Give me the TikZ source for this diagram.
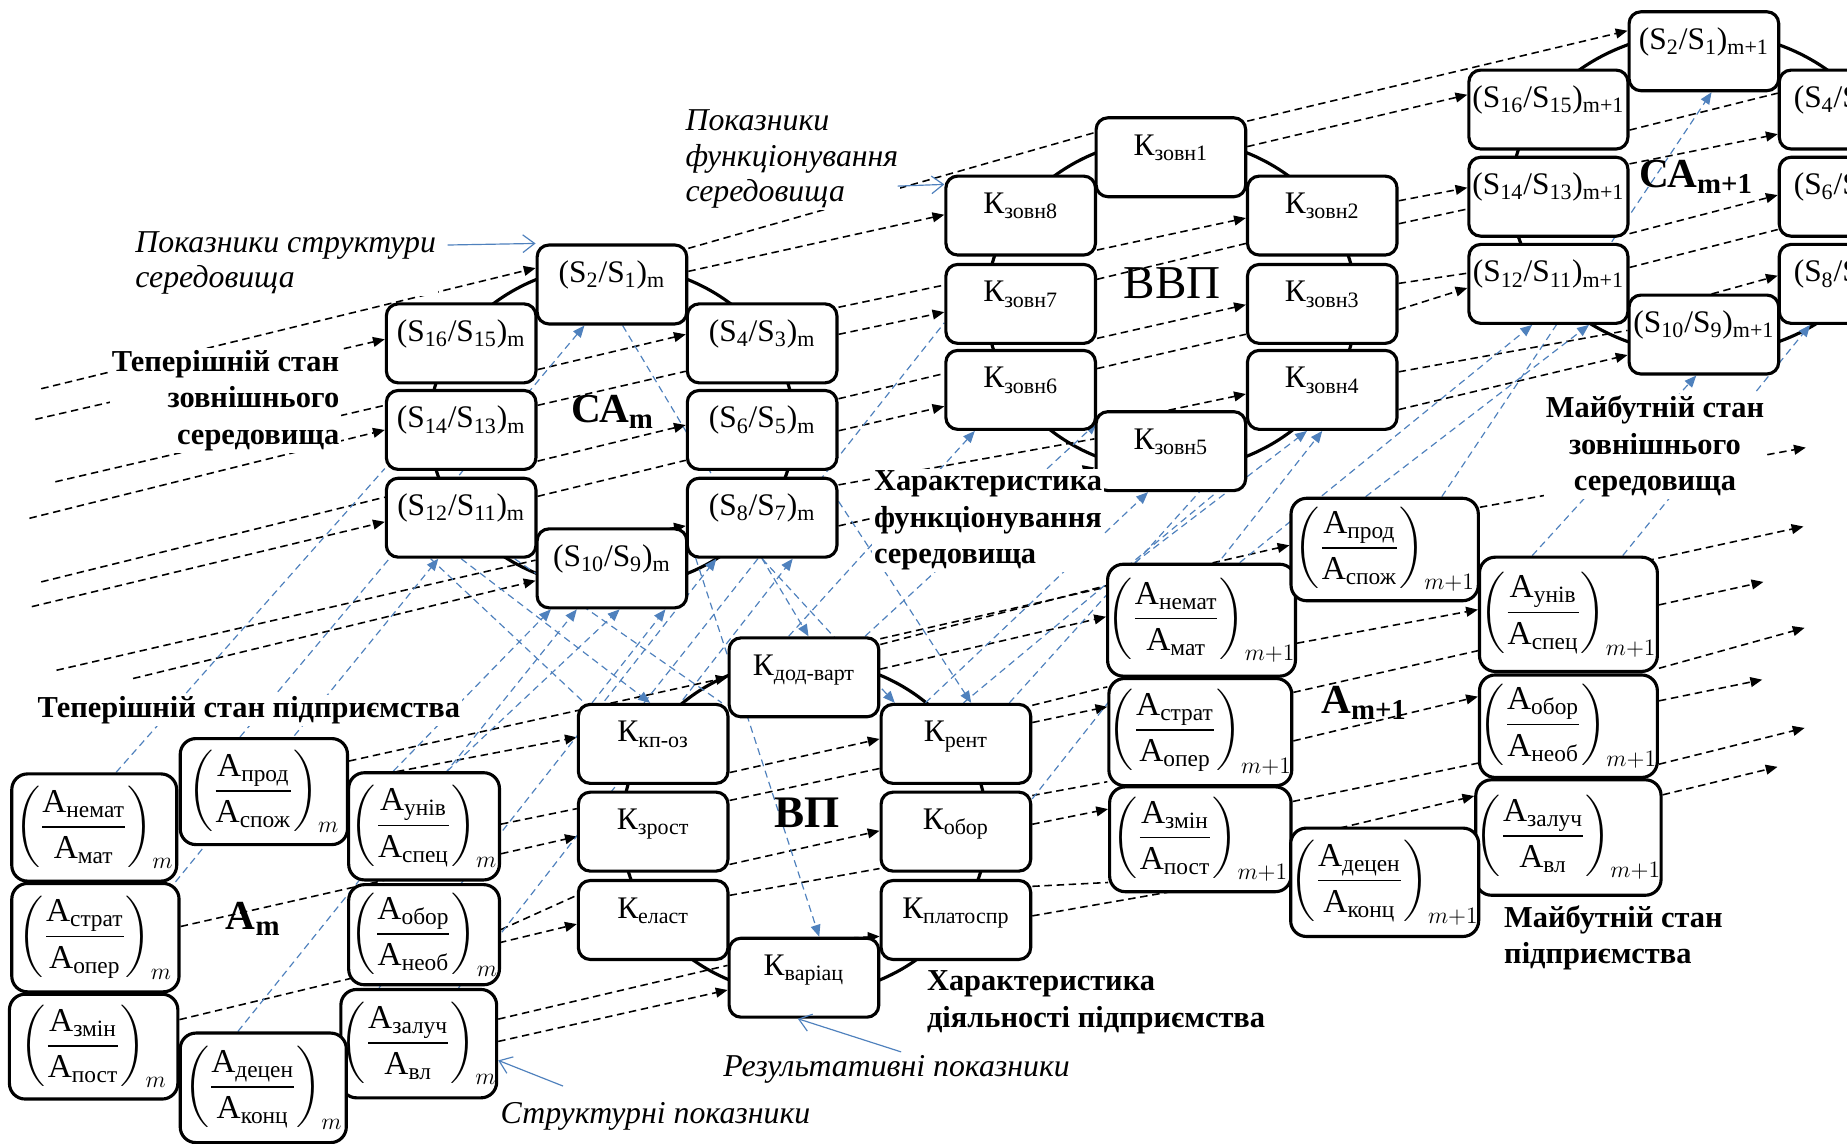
\documentclass[tikz,border=0pt]{standalone}
\usepackage{amsmath}
\usepackage{fontspec}
\setmainfont{Liberation Serif}
\usetikzlibrary{calc,arrows.meta}
\pgfdeclarelayer{bg}
\pgfsetlayers{bg,main}
\definecolor{lblue}{RGB}{79,129,189}
\newcommand\fr[3]{$\left(\dfrac{\text{А}_{\text{#1}}}{\text{А}_{\text{#2}}}\right)_{#3}$}
\newcommand\lk[5]{\draw[#1] ($(#2.north east)!#3!(#2.south east)$) -- ($(#4.north west)!#5!(#4.south west)$);}
\newcommand\ofl[4]{\draw[#1] (#2) -- ($(#3.north west)!#4!(#3.south west)$);}
\newcommand\ofr[4]{\draw[#1] ($(#2.north east)!#3!(#2.south east)$) -- (#4);}
\newcommand\up[5]{\draw[#1] ($(#2.north west)!#3!(#2.north east)$) -- ($(#4.south west)!#5!(#4.south east)$);}
\tikzset{
  bx/.style={draw, line width=1.6pt, rounded corners=6pt, fill=white, inner sep=0pt,
    minimum width=76.2pt, minimum height=40.2pt, font=\fontsize{16}{18}\selectfont,
    text height=12pt, text depth=14pt},
  bxw/.style={bx, minimum width=81pt},
  ab/.style={draw, line width=1.6pt, rounded corners=8pt, fill=white, inner sep=0pt,
    font=\fontsize{17}{20}\selectfont},
  ring/.style={line width=1.6pt},
  bd/.style={line width=0.8pt, dash pattern=on 3.8pt off 2.4pt},
  bda/.style={bd, -{Triangle[length=6pt,width=5pt]}},
  bu/.style={lblue, line width=0.6pt, dash pattern=on 3.6pt off 2.4pt},
  bua/.style={bu, -{Triangle[length=6pt,width=5pt]}},
  ptr/.style={lblue, line width=0.6pt, -{Straight Barb[length=6pt,width=9pt]}},
  sect/.style={fill=white, inner sep=1pt, font=\fontsize{15.5}{18.6}\selectfont\bfseries},
  ital/.style={fill=white, inner sep=1pt, font=\fontsize{16.2}{18}\selectfont\itshape},
  big/.style={font=\fontsize{21}{24}\selectfont\bfseries},
}
\begin{document}
\begin{tikzpicture}[x=0.6pt,y=-0.6pt]
\path[use as bounding box] (0,0) rectangle (1568,971);
% ---------- CA_m
\node[bx] (s2)  at (519.5,241.5) {(S\textsubscript{2}/S\textsubscript{1})\textsubscript{m}};
\node[bx] (s16) at (391.5,291.5) {(S\textsubscript{16}/S\textsubscript{15})\textsubscript{m}};
\node[bx] (s4)  at (647,291.5)   {(S\textsubscript{4}/S\textsubscript{3})\textsubscript{m}};
\node[bx] (s14) at (391.5,365)   {(S\textsubscript{14}/S\textsubscript{13})\textsubscript{m}};
\node[bx] (s6)  at (647,365)     {(S\textsubscript{6}/S\textsubscript{5})\textsubscript{m}};
\node[bx] (s12) at (391.5,439.5) {(S\textsubscript{12}/S\textsubscript{11})\textsubscript{m}};
\node[bx] (s8)  at (647,439.5)   {(S\textsubscript{8}/S\textsubscript{7})\textsubscript{m}};
\node[bx] (s10) at (519.5,482.5) {(S\textsubscript{10}/S\textsubscript{9})\textsubscript{m}};
\node[big] (lcam) at (520,350) {СА\textsubscript{m}};
% ---------- VVP
\node[bx] (k1) at (994,133.5)  {К\textsubscript{зовн1}};
\node[bx] (k8) at (866.5,183)  {К\textsubscript{зовн8}};
\node[bx] (k2) at (1122.5,183) {К\textsubscript{зовн2}};
\node[bx] (k7) at (866.5,258)  {К\textsubscript{зовн7}};
\node[bx] (k3) at (1122.5,258) {К\textsubscript{зовн3}};
\node[bx] (k6) at (866.5,331)  {К\textsubscript{зовн6}};
\node[bx] (k4) at (1122.5,331) {К\textsubscript{зовн4}};
\node[bx] (k5) at (994,383)    {К\textsubscript{зовн5}};
\node[font=\fontsize{24}{26}\selectfont] (lvvp) at (995,240) {ВВП};
% ---------- CA_{m+1}
\node[bx]  (t2)  at (1446.5,43.5) {(S\textsubscript{2}/S\textsubscript{1})\textsubscript{m+1}};
\node[bxw] (t16) at (1314.5,93)   {(S\textsubscript{16}/S\textsubscript{15})\textsubscript{m+1}};
\node[bxw] (t14) at (1314.5,167)  {(S\textsubscript{14}/S\textsubscript{13})\textsubscript{m+1}};
\node[bxw] (t12) at (1314.5,241)  {(S\textsubscript{12}/S\textsubscript{11})\textsubscript{m+1}};
\node[bx]  (t10) at (1446.5,284)  {(S\textsubscript{10}/S\textsubscript{9})\textsubscript{m+1}};
\node[bxw] (t4)  at (1578,93)     {(S\textsubscript{4}/S\textsubscript{3})\textsubscript{m+1}};
\node[bxw] (t6)  at (1578,167)    {(S\textsubscript{6}/S\textsubscript{5})\textsubscript{m+1}};
\node[bxw] (t8)  at (1578,241)    {(S\textsubscript{8}/S\textsubscript{7})\textsubscript{m+1}};
\node[big] (lcam1) at (1440,150) {СА\textsubscript{m+1}};
% ---------- VP
\node[bx] (v1) at (682.5,575)   {К\textsubscript{дод-варт}};
\node[bx] (v2) at (554.5,631.5) {К\textsubscript{кп-оз}};
\node[bx] (v3) at (811.5,631.5) {К\textsubscript{рент}};
\node[bx] (v4) at (554.5,706)   {К\textsubscript{зрост}};
\node[bx] (v5) at (811.5,706)   {К\textsubscript{обор}};
\node[bx] (v6) at (554.5,781)   {К\textsubscript{еласт}};
\node[bx] (v7) at (811.5,781)   {К\textsubscript{платоспр}};
\node[bx] (v8) at (682.5,830)   {К\textsubscript{варіац}};
\node[font=\fontsize{23}{26}\selectfont\bfseries] (lvp) at (685,690) {ВП};
% ---------- A_m
\node[ab, minimum width=84pt,   minimum height=54.6pt] (a1) at (80,702.5)    {\fr{немат}{мат}{m}};
\node[ab, minimum width=85.2pt, minimum height=54pt]   (a2) at (224,672)     {\fr{прод}{спож}{m}};
\node[ab, minimum width=76.8pt, minimum height=54.6pt] (a3) at (360,701.5)   {\fr{унів}{спец}{m}};
\node[ab, minimum width=85.2pt, minimum height=55.2pt] (a4) at (81,796)      {\fr{страт}{опер}{m}};
\node[ab, minimum width=76.8pt, minimum height=51pt]   (a5) at (360,793.5)   {\fr{обор}{необ}{m}};
\node[ab, minimum width=85.8pt, minimum height=53.4pt] (a6) at (79.5,888.5)  {\fr{змін}{пост}{m}};
\node[ab, minimum width=77.4pt, minimum height=55.2pt] (a7) at (355.5,886)   {\fr{залуч}{вл}{m}};
\node[ab, minimum width=84.6pt, minimum height=55.8pt] (a8) at (223.5,923.5) {\fr{децен}{конц}{m}};
\node[big] (lam) at (215,780) {А\textsubscript{m}};
% ---------- A_{m+1}
\node[ab, minimum width=88.8pt, minimum height=57pt]   (b1) at (1020,526.5)  {\fr{немат}{мат}{m+1}};
\node[ab, minimum width=95.4pt, minimum height=52.2pt] (b2) at (1175.5,466.5){\fr{прод}{спож}{m+1}};
\node[ab, minimum width=90.6pt, minimum height=58.2pt] (b3) at (1331.5,521.5){\fr{унів}{спец}{m+1}};
\node[ab, minimum width=92.4pt, minimum height=54.6pt] (b4) at (1019,621.5)  {\fr{страт}{опер}{m+1}};
\node[ab, minimum width=90.6pt, minimum height=52.2pt] (b5) at (1331.5,616.5){\fr{обор}{необ}{m+1}};
\node[ab, minimum width=92.4pt, minimum height=53.4pt] (b6) at (1019,712.5)  {\fr{змін}{пост}{m+1}};
\node[ab, minimum width=90.6pt, minimum height=58.8pt] (b7) at (1331.5,711)  {\fr{залуч}{вл}{m+1}};
\node[ab, minimum width=95.4pt, minimum height=55.2pt] (b8) at (1175.5,749)  {\fr{децен}{конц}{m+1}};
\node[big] (lam1) at (1158,597) {А\textsubscript{m+1}};
% ---------- section labels
\node[sect, anchor=east, align=right] (lts) at (290,340) {Теперішній стан\\зовнішнього\\середовища};
\node[sect, anchor=west, align=left] (lhf) at (740,442) {Характеристика\\функціонування\\середовища};
\node[sect, align=center] (lms) at (1405,379) {Майбутній стан\\зовнішнього\\середовища};
\node[sect, anchor=west] (ltp) at (30,603) {Теперішній стан підприємства};
\node[sect, anchor=west, align=left] (lhd) at (785,851) {Характеристика\\діяльності підприємства};
\node[sect, anchor=west, align=left] (lmp) at (1275,796) {Майбутній стан\\підприємства};
\node[ital, anchor=west, align=left] (ips) at (113,223) {Показники структури\\середовища};
\node[ital, anchor=west, align=left] (ipf) at (580,135) {Показники\\функціонування\\середовища};
\node[ital, anchor=west] (ipr) at (612,908) {Результативні показники};
\node[ital, anchor=west] (ipst) at (423,948) {Структурні показники};
% pointers
\coordinate (c1) at (380,208);
\coordinate (c2) at (762,158);
\coordinate (c3) at (765,893);
\coordinate (c4) at (478,922);
\draw[ptr] (c1) -- (s2.north west);
\draw[ptr] (c2) -- ($(k8.north west)!.12!(k8.south west)$);
\draw[ptr] (c3) -- ($(v8.south west)!.46!(v8.south east)$);
\draw[ptr] (c4) -- ($(a7.north east)!.65!(a7.south east)$);
% ---------- off-page points
\coordinate (o1) at (35,330);
\coordinate (o2) at (30,356);
\coordinate (o3) at (47,409);
\coordinate (o4) at (25,440);
\coordinate (o5) at (35,494);
\coordinate (o6) at (27,515);
\coordinate (o7) at (48,569);
\coordinate (o8) at (113,576);
\coordinate (r1) at (1533,380);
\coordinate (r2) at (1531,447);
\coordinate (r3) at (1497,494);
\coordinate (r4) at (1532,533);
\coordinate (r5) at (1496,577);
\coordinate (r6) at (1532,618);
\coordinate (r7) at (1509,651);
\begin{pgfonlayer}{bg}
\fill[white] (0,0) rectangle (1568,971);
\draw[ring] (519.5,362) ellipse [x radius=93pt, y radius=82.2pt];
\draw[ring] (994.5,258.5) ellipse [x radius=94.2pt, y radius=84.6pt];
\draw[ring] (1446,164) ellipse [x radius=97.8pt, y radius=82.2pt];
\draw[ring] (683,702.5) ellipse [x radius=93pt, y radius=85.2pt];
% black dashed: environment
\ofl{bda}{o1}{s2}{.3}
\ofl{bda}{o2}{s16}{.45}
\ofl{bd}{o3}{s14}{.2}
\ofl{bda}{o4}{s14}{.5}
\ofl{bd}{o5}{s12}{.25}
\ofl{bda}{o6}{s12}{.55}
\ofl{bd}{o7}{s10}{.4}
\ofl{bda}{o8}{s10}{.65}
\lk{bda}{s16}{.82}{s4}{.39}
\lk{bd}{s14}{.2}{s4}{.84}
\lk{bda}{s14}{.88}{s6}{.44}
\lk{bd}{s12}{.24}{s6}{.87}
\lk{bda}{s12}{.88}{s8}{.6}
\lk{bd}{s2}{.06}{k1}{.2}
\lk{bda}{s2}{.34}{k8}{.49}
\lk{bd}{s4}{.06}{k7}{.27}
\lk{bda}{s4}{.39}{k7}{.6}
\lk{bd}{s6}{.12}{k6}{.3}
\lk{bda}{s6}{.51}{k6}{.7}
\lk{bd}{s8}{.1}{k5}{.35}
\lk{bda}{s8}{.6}{k5}{.7}
\lk{bda}{k8}{.92}{k2}{.53}
\lk{bd}{k7}{.2}{k2}{.84}
\lk{bda}{k7}{.92}{k3}{.51}
\lk{bd}{k6}{.24}{k3}{.87}
\lk{bda}{k6}{.93}{k4}{.55}
\lk{bda}{k1}{.06}{t2}{.25}
\lk{bda}{k1}{.37}{t16}{.32}
\lk{bda}{k2}{.32}{t14}{.39}
\lk{bd}{k2}{.6}{t14}{.65}
\lk{bd}{k3}{.25}{t12}{.37}
\lk{bda}{k3}{.57}{t12}{.55}
\lk{bd}{k4}{.28}{t10}{.45}
\lk{bda}{k4}{.74}{t10}{.75}
\lk{bd}{t16}{.75}{t4}{.3}
\lk{bda}{t14}{.1}{t4}{.8}
\lk{bda}{t14}{.95}{t6}{.48}
\lk{bd}{t12}{.3}{t6}{.9}
\lk{bda}{t12}{.9}{t8}{.4}
% black dashed: enterprise
\lk{bda}{a2}{.22}{v1}{.5}
\lk{bda}{a2}{.4}{v2}{.42}
\lk{bd}{a3}{.48}{v4}{.22}
\lk{bda}{a4}{.4}{v4}{.56}
\lk{bd}{a5}{.45}{v6}{.2}
\lk{bda}{a6}{.25}{v6}{.55}
\lk{bd}{a7}{.28}{v8}{.35}
\lk{bda}{a7}{.48}{v8}{.65}
\lk{bda}{v2}{.85}{v3}{.44}
\lk{bd}{v4}{.12}{v3}{.8}
\lk{bda}{v4}{.9}{v5}{.49}
\lk{bd}{v6}{.2}{v5}{.95}
\lk{bda}{v6}{.8}{v7}{.7}
\lk{bda}{v1}{.03}{b2}{.46}
\lk{bd}{v1}{.1}{b1}{.2}
\lk{bda}{v1}{.4}{b1}{.47}
\lk{bd}{v3}{.03}{b4}{.09}
\lk{bda}{v3}{.24}{b4}{.27}
\lk{bd}{v5}{.06}{b4}{.95}
\lk{bda}{v5}{.41}{b6}{.22}
\lk{bd}{v7}{.09}{b6}{.9}
\lk{bda}{v7}{.45}{b8}{.4}
\lk{bda}{b1}{.7}{b3}{.46}
\lk{bd}{b4}{.14}{b3}{.81}
\lk{bda}{b4}{.58}{b5}{.22}
\lk{bd}{b6}{.15}{b5}{.85}
\lk{bda}{b6}{.5}{b7}{.15}
\ofr{bda}{b2}{.1}{r1}
\ofr{bda}{b2}{.95}{r2}
\ofr{bda}{b3}{.42}{r3}
\ofr{bda}{b3}{.96}{r4}
\ofr{bda}{b5}{.26}{r5}
\ofr{bda}{b5}{.86}{r6}
\ofr{bda}{b7}{.14}{r7}
% blue dashed: upward
\draw[bu] ($(a1.north west)!.63!(a1.north east)$) -- ($(s14.north west)!.97!(s14.south west)$);
\up{bua}{a2}{.36}{s2}{.32}
\up{bua}{a4}{.97}{s12}{.35}
\up{bua}{a8}{.35}{s10}{.27}
\up{bua}{a7}{.25}{s8}{.2}
\up{bua}{a7}{.75}{s8}{.7}
\up{bua}{a3}{.3}{s10}{.1}
\up{bua}{a3}{.65}{s10}{.55}
\up{bua}{v2}{.1}{s10}{.85}
\draw[bu] ($(v2.north west)!.44!(v2.north east)$) -- ($(k7.north west)!.73!(k7.south west)$);
\up{bua}{v1}{.4}{k6}{.2}
\draw[bua] ($(v1.north west)!.9!(v1.north east)$) -- ($(k6.north east)!.9!(k6.south east)$);
\up{bua}{v3}{.3}{k5}{.35}
\up{bu}{v3}{.55}{k5}{.8}
\draw[bua] ($(v3.north west)!.85!(v3.north east)$) -- ($(k5.north east)!.35!(k5.south east)$);
\draw[bua] ($(v5.north east)!.1!(v5.south east)$) -- ($(k4.south west)!.5!(k4.south east)$);
\up{bua}{b1}{.15}{k4}{.4}
\up{bua}{b1}{.7}{t12}{.4}
\up{bua}{b2}{.4}{t12}{.75}
\up{bua}{b3}{.3}{t10}{.45}
\up{bua}{b3}{.8}{t8}{.2}
\up{bua}{b2}{.8}{t2}{.55}
% blue dashed: downward
\draw[bua] ($(s12.south west)!.5!(s12.south east)$) -- ($(v2.north west)!.48!(v2.north east)$);
\draw[bu] ($(s12.south west)!.3!(s12.south east)$) -- ($(v2.north west)!.05!(v2.north east)$);
\draw[bua] ($(s2.south west)!.57!(s2.south east)$) -- ($(v1.north west)!.53!(v1.north east)$);
\draw[bua] ($(s8.north east)!.3!(s8.south east)$) -- ($(v3.north west)!.6!(v3.north east)$);
\draw[bua] ($(s10.north east)!.1!(s10.south east)$) -- ($(v8.north west)!.6!(v8.north east)$);
\draw[bu] ($(s12.south west)!.85!(s12.south east)$) -- ($(v2.north west)!.95!(v2.north east)$);
\draw[bua] ($(s8.south west)!.5!(s8.south east)$) -- ($(v3.north west)!.1!(v3.north east)$);
\end{pgfonlayer}
\end{tikzpicture}
\end{document}
